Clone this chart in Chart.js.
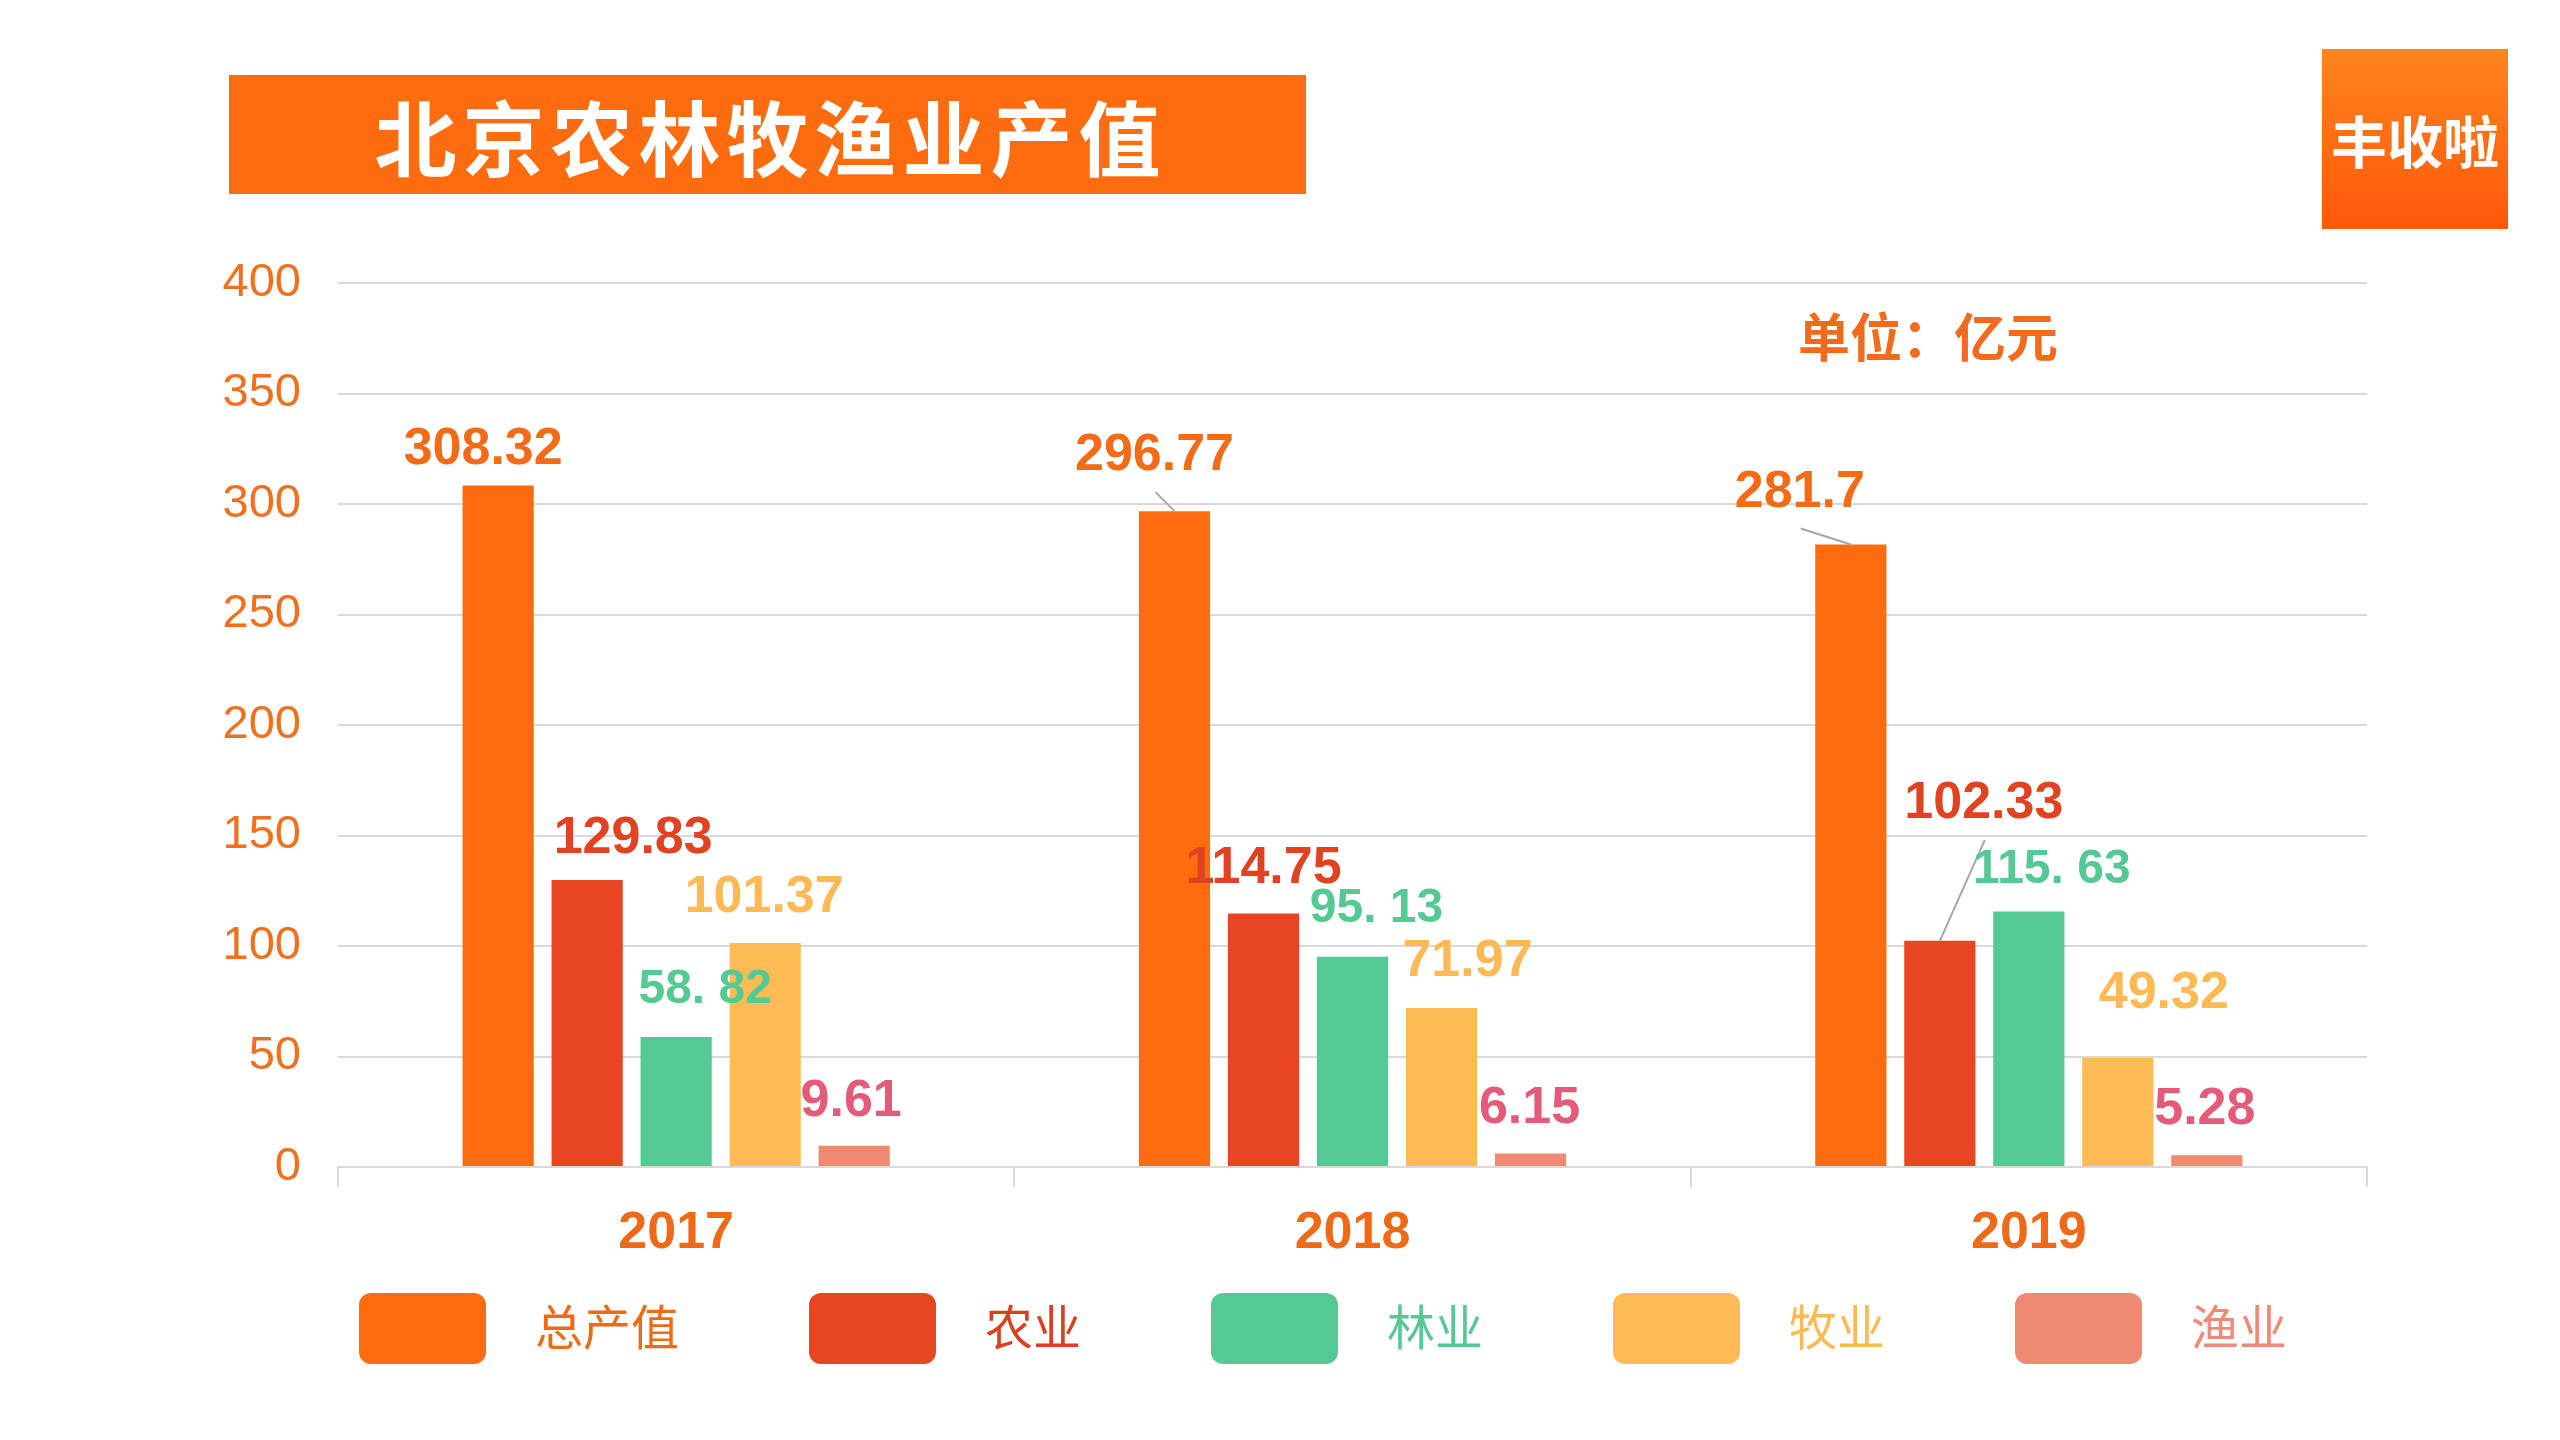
<!DOCTYPE html>
<html>
<head>
<meta charset="utf-8">
<title>北京农林牧渔业产值</title>
<script src="https://cdn.jsdelivr.net/npm/chart.js@4.4.1/dist/chart.umd.min.js"></script>
<style>
body{margin:0;width:2560px;height:1440px;background:#fff;position:relative;overflow:hidden;font-family:"Noto Sans CJK SC",sans-serif}
#myChart{position:absolute;left:0;top:0}
.titleBox{position:absolute;left:229px;top:75px;width:1077px;height:119px;background:#FF6C10;color:#fff;font-weight:bold;font-size:82px;letter-spacing:6px;text-indent:6px;text-align:center;line-height:119px}
.badge{position:absolute;left:2322px;top:49px;width:186px;height:180px;background:linear-gradient(#FF851E,#FF580A);color:#fff;font-weight:bold;font-size:56px;text-align:center;line-height:180px}
.unit{position:absolute;left:1798px;top:300px;color:#F26A1B;font-weight:bold;font-size:52px;line-height:70px}
#legend{position:absolute;left:359px;top:1293px;height:71px;display:flex;align-items:center}
.legendItem{display:flex;align-items:center;margin-right:130px}
.legendBox{display:inline-block;width:127px;height:71px;border-radius:12px}
.legendText{margin-left:49px;font-size:48px;line-height:71px;position:relative;top:-4px}
</style>
</head>
<body>
<canvas id="myChart" width="2560" height="1440"></canvas>
<div class="titleBox">北京农林牧渔业产值</div>
<div class="badge">丰收啦</div>
<div class="unit">单位：亿元</div>
<div id="legend"></div>
<script>
// data
var years = ['2017', '2018', '2019']
var seriesNames = ['总产值', '农业', '林业', '牧业', '渔业']
var totalVals = [308.32, 296.77, 281.7]
var agriVals = [129.83, 114.75, 102.33]
var forestVals = [58.82, 95.13, 115.63]
var animalVals = [101.37, 71.97, 49.32]
var fishVals = [9.61, 6.15, 5.28]
var yMin = 0, yMax = 400, yStep = 50

var barColors = ['#FF6C10', '#E84522', '#55C994', '#FDBA55', '#EF8A72']
var labelColors = ['#F46B17', '#E04222', '#55C994', '#FDB954', '#E35B78']
var legendTextColors = ['#F06A14', '#D84020', '#55C994', '#FDB954', '#EE8A78']

// where each value label sits relative to its bar top (px)
var labelShift = [
    [[-15, -36], [-20, -55], [-51, -52]],
    [[46, -41], [0, -45], [44, -137]],
    [[29, -47], [24, -48], [23, -42]],
    [[-1, -45], [26, -46], [46, -64]],
    [[-3, -44], [-1, -45], [-2, -46]]
]
var leaderLines = [
    [false, true, true],
    [false, false, true],
    [false, false, false],
    [false, false, false],
    [false, false, false]
]

function labelText(i, v) {
    var s = String(v)
    if (i == 2) s = s.replace('.', '. ')   // green labels have the odd gap
    return s
}

const barLabels = {
    id: 'barLabels',
    afterDatasetsDraw(chart) {
        const ctx = chart.ctx
        chart.data.datasets.forEach((ds, i) => {
            const meta = chart.getDatasetMeta(i)
            meta.data.forEach((bar, j) => {
                const x = bar.x + labelShift[i][j][0]
                const y = bar.y + labelShift[i][j][1]
                ctx.save()
                if (leaderLines[i][j]) {
                    ctx.strokeStyle = '#A6A6A6'
                    ctx.lineWidth = 2
                    ctx.beginPath()
                    ctx.moveTo(x + 1, y + 36)
                    ctx.lineTo(bar.x, bar.y)
                    ctx.stroke()
                }
                ctx.font = 'bold ' + (i == 2 ? 48 : 52) + 'px "Liberation Sans", Arial, sans-serif'
                ctx.fillStyle = labelColors[i]
                ctx.textAlign = 'center'
                ctx.textBaseline = 'middle'
                ctx.fillText(labelText(i, ds.data[j]), x, y)
                ctx.restore()
            })
        })
    }
}

Chart.defaults.font.family = '"Liberation Sans", Arial, sans-serif'

var allVals = [totalVals, agriVals, forestVals, animalVals, fishVals]
var datasets = []
for (let i = 0; i < seriesNames.length; i++) {
    datasets.push({
        label: seriesNames[i],
        data: allVals[i],
        backgroundColor: barColors[i],
        borderWidth: 0,
        categoryPercentage: 0.658,
        barPercentage: 0.8
    })
}

const ctx = document.getElementById('myChart').getContext('2d')
var myChart = new Chart(ctx, {
    type: 'bar',
    data: {
        labels: years,
        datasets: datasets
    },
    options: {
        responsive: false,
        animation: false,
        layout: { padding: { top: 283, right: 193, left: 0, bottom: 0 } },
        plugins: {
            legend: { display: false },
            tooltip: { enabled: false }
        },
        scales: {
            x: {
                grid: { display: true, drawOnChartArea: false, drawTicks: true, tickLength: 20, color: '#D9D9D9', lineWidth: 2, offset: true },
                border: { display: true, color: '#D9D9D9', width: 2 },
                ticks: {
                    color: '#EE6A18',
                    padding: 15,
                    font: { size: 52, weight: 'bold' }
                },
                afterFit(scale) { scale.height = 273 }
            },
            y: {
                min: yMin,
                max: yMax,
                ticks: { stepSize: yStep, padding: 37, color: '#F0701E', font: { size: 47 } },
                grid: { color: '#D9D9D9', lineWidth: 2, drawTicks: false },
                border: { display: false },
                afterFit(scale) { scale.width = 338 }
            }
        }
    },
    plugins: [barLabels]
})

// legend built from the chart's own datasets
var box = ``
myChart.data.datasets.forEach((ds, i) => {
    box += `<div class="legendItem"><span class="legendBox" style="background:${ds.backgroundColor}"></span><span class="legendText" style="color:${legendTextColors[i]}">${ds.label}</span></div>`
})
document.getElementById('legend').innerHTML = box
</script>
</body>
</html>
